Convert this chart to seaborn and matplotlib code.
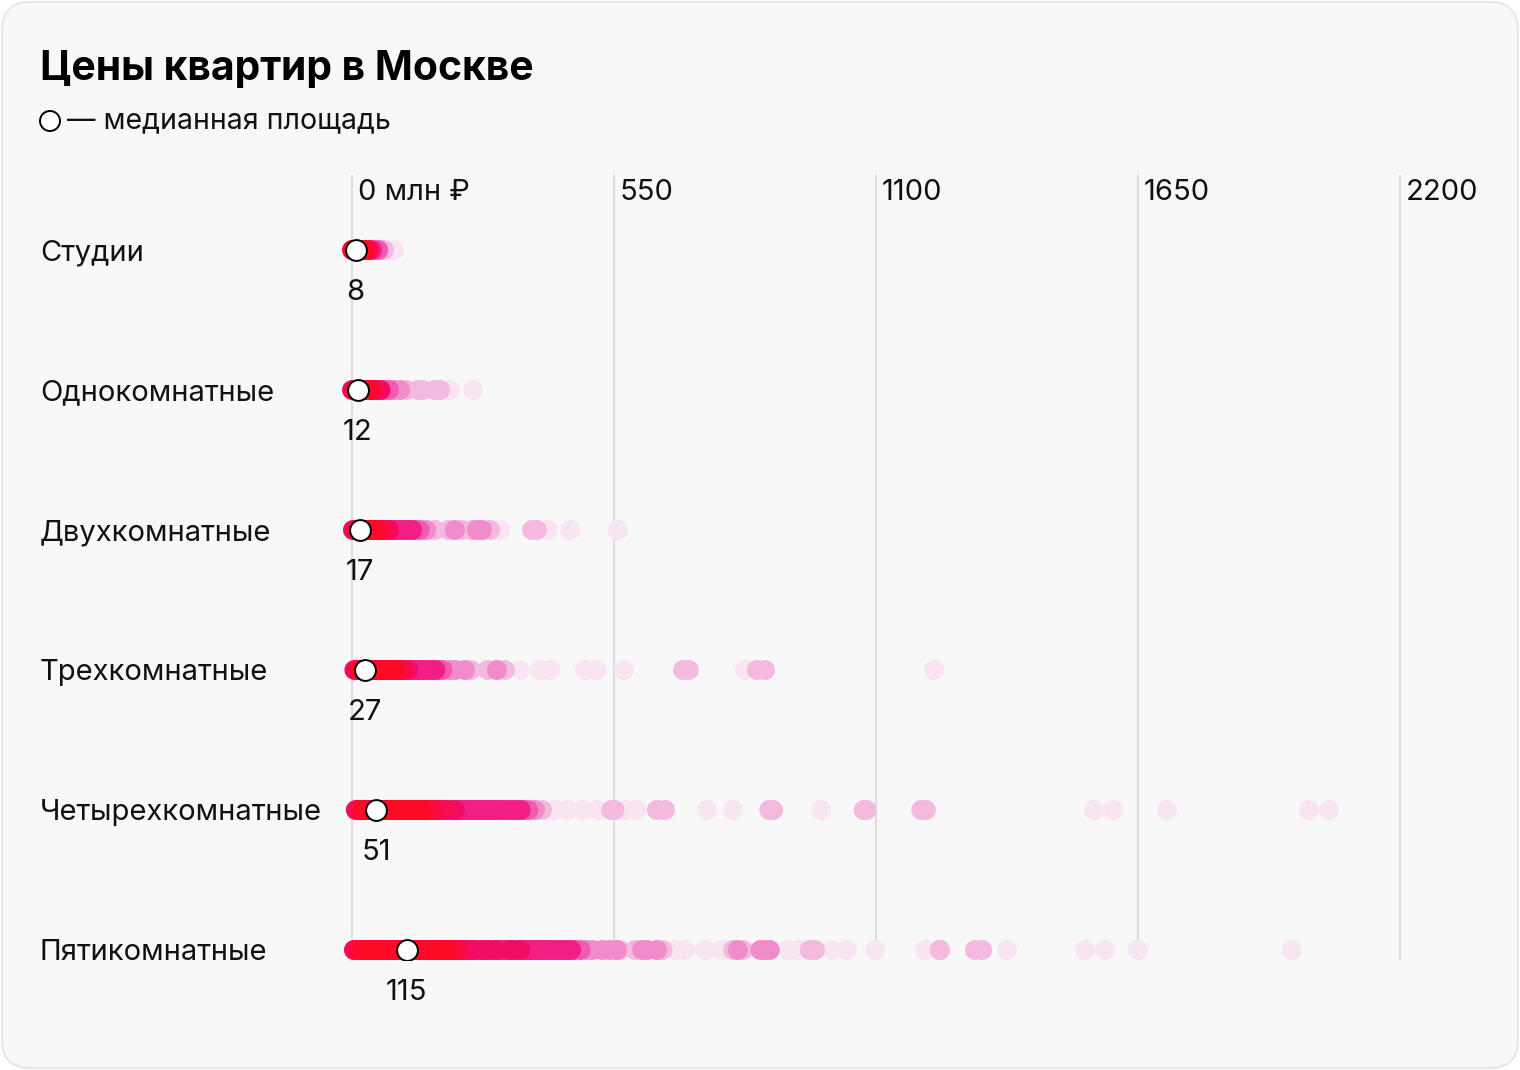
import numpy as np
import pandas as pd
import matplotlib
matplotlib.use("Agg")
import matplotlib.pyplot as plt
import matplotlib.transforms as mtransforms
from matplotlib.colors import LinearSegmentedColormap
from matplotlib.patches import FancyBboxPatch, Circle
import seaborn as sns

# --- data (prices in mln rubles) ---
rooms = ["Студии", "Однокомнатные", "Двухкомнатные", "Трехкомнатные",
         "Четырехкомнатные", "Пятикомнатные"]
medians = [8, 12, 17, 27, 51, 115]
ticks = [0, 550, 1100, 1650, 2200]
tick_labels = ["0 млн ₽", "550", "1100", "1650", "2200"]

studio_prices = [0, 2, 4, 6, 8, 10, 12, 14, 17, 20, 24, 29, 35, 42, 55, 67, 88]

one_room_prices = [0, 4, 7, 11, 15, 19, 22, 26, 30, 34, 37, 41, 45, 52, 60, 68,
                   78, 89, 101, 115, 139, 149, 174, 185, 206, 254]

two_room_prices = [2, 6, 10, 13, 17, 21, 25, 28, 32, 36, 40, 43, 47, 51, 55, 58,
                   64, 71, 78, 86, 93, 101, 109, 117, 126, 134, 142, 156, 174,
                   202, 216, 231, 252, 262, 273, 290, 311, 378, 388, 411, 458, 558]

three_room_prices = [5, 9, 12, 16, 20, 24, 27, 31, 35, 39, 42, 46, 50, 54, 57, 61,
                     65, 69, 72, 76, 80, 84, 87, 91, 95, 99, 103, 110, 118, 126,
                     134, 141, 149, 158, 166, 175, 183, 190, 205, 218, 237, 250,
                     285, 304, 321, 353, 395, 416, 489, 514, 571, 695, 707, 825,
                     850, 867, 1222]

four_room_prices = [8, 12, 15, 19, 23, 27, 30, 34, 38, 42, 45, 49, 53, 57, 60, 64,
                    68, 72, 75, 79, 83, 87, 90, 94, 98, 102, 105, 109, 113, 117,
                    120, 124, 128, 132, 135, 139, 143, 147, 150, 154, 158, 162,
                    169, 176, 182, 189, 196, 203, 210, 216, 224, 231, 238, 245,
                    252, 259, 267, 274, 281, 289, 296, 304, 312, 320, 328, 337,
                    345, 354, 362, 370, 384, 399, 426, 453, 485, 516, 544, 551,
                    573, 598, 640, 657, 745, 800, 876, 884, 985, 1074, 1080, 1195,
                    1205, 1558, 1598, 1711, 2009, 2051]

five_room_prices = [4, 8, 11, 15, 19, 23, 26, 30, 34, 38, 41, 45, 49, 53, 56, 60,
                    64, 68, 71, 75, 79, 83, 86, 90, 94, 98, 101, 105, 109, 113,
                    116, 120, 124, 128, 131, 135, 139, 143, 146, 150, 154, 158,
                    161, 165, 169, 173, 176, 180, 184, 188, 191, 195, 199, 203,
                    206, 210, 214, 221, 228, 234, 241, 247, 255, 262, 268, 275,
                    283, 290, 296, 303, 311, 318, 325, 333, 340, 346, 353, 361,
                    368, 375, 383, 390, 399, 404, 413, 420, 428, 436, 444, 452,
                    460, 468, 480, 493, 505, 525, 540, 556, 562, 594, 609, 620,
                    640, 652, 678, 699, 741, 777, 800, 810, 821, 857, 867, 877,
                    915, 936, 961, 972, 1008, 1039, 1098, 1203, 1234, 1234, 1308,
                    1323, 1375, 1539, 1581, 1650, 1973]

all_prices = [studio_prices, one_room_prices, two_room_prices,
              three_room_prices, four_room_prices, five_room_prices]

W, H = 1520, 1070
PX = 262 / 550          # pixels per mln rubles
DOT_R = 10 / PX         # dot radius in data units

# how many dots pile up on each dot -> colour (imitates multiply blending)
frames = []
for i, prices in enumerate(all_prices):
    p = np.array(prices, dtype=float)
    layers = (np.abs(p[:, None] - p[None, :]) <= DOT_R).sum(axis=1)
    frames.append(pd.DataFrame({"price": p, "row": i, "layers": layers}))
df = pd.concat(frames).sort_values("layers", kind="stable")

anchors = [(1, "#f9e4f2"), (2, "#f4b8df"), (3, "#f08ccc"), (4, "#ef5ab2"),
           (5, "#f11e84"), (6, "#f30a62"), (8, "#f80a44"), (10, "#fb0a30"),
           (11, "#fc0a26")]
lo, hi = anchors[0][0], anchors[-1][0]
cmap = LinearSegmentedColormap.from_list(
    "dens", [((n - lo) / (hi - lo), c) for n, c in anchors])

font = ["Inter", "DejaVu Sans"]
sns.set_theme(style="white")
plt.rcParams["font.family"] = font

fig = plt.figure(figsize=(W / 100, H / 100), dpi=100, facecolor="white")
card = FancyBboxPatch((2, 2), W - 4, H - 4,
                      boxstyle="round,pad=0,rounding_size=28",
                      facecolor="#f8f8f8", edgecolor="#e3e3e3", lw=1.2,
                      transform=None, zorder=-10)
fig.patches.append(card)

top_px, bot_px, row0_px, row_step = 175, 960, 250, 140
ax = fig.add_axes([330 / W, 1 - bot_px / H, 1150 / W, (bot_px - top_px) / H])
ax.set_axis_off()
ax.patch.set_alpha(0)
ax.set_xlim((330 - 352) / PX, (1480 - 352) / PX)
y_top = (top_px - row0_px) / row_step
y_bot = (bot_px - row0_px) / row_step
ax.set_ylim(y_bot, y_top)

ax.vlines(ticks, y_bot, y_top, color="#dedede", lw=1.5, zorder=0)
tick_tr = mtransforms.offset_copy(ax.transData, fig=fig, x=6, y=-3, units="dots")
for t, lab in zip(ticks, tick_labels):
    ax.text(t, (190 - row0_px) / row_step, lab, transform=tick_tr,
            ha="left", va="center", fontsize=21, color="#111111")

sns.scatterplot(data=df, x="price", y="row", hue="layers", palette=cmap,
                hue_norm=(lo, hi), s=205, linewidth=0, legend=False,
                ax=ax, zorder=2)
ax.set_xlabel("")
ax.set_ylabel("")

ax.scatter(medians, range(len(rooms)), s=225, facecolor="white",
           edgecolor="black", linewidth=1.4, zorder=3)

lab_tr = mtransforms.offset_copy(ax.transData, fig=fig, x=0, y=-43, units="dots")
for i, m in enumerate(medians):
    ax.text(m, i, str(m), transform=lab_tr, ha="center", va="center",
            fontsize=21, color="#111111")

row_tr = mtransforms.blended_transform_factory(fig.transFigure, ax.transData)
row_tr = mtransforms.offset_copy(row_tr, fig=fig, x=0, y=-10, units="dots")
for i, r in enumerate(rooms):
    ax.text(40 / W, i, r, transform=row_tr, ha="left", va="baseline",
            fontsize=21, color="#111111", clip_on=False)

fig.text(40 / W, 1 - 80 / H, "Цены квартир в Москве", ha="left",
         va="baseline", fontsize=29.4, fontweight="bold", color="black")
fig.patches.append(Circle((50, H - 121), 10, facecolor="white",
                          edgecolor="black", lw=1.4, transform=None))
fig.text(67 / W, 1 - 121 / H, "— медианная площадь", ha="left",
         va="center", fontsize=20.5, color="#111111")

fig.savefig("out.png", dpi=100, facecolor="white")
